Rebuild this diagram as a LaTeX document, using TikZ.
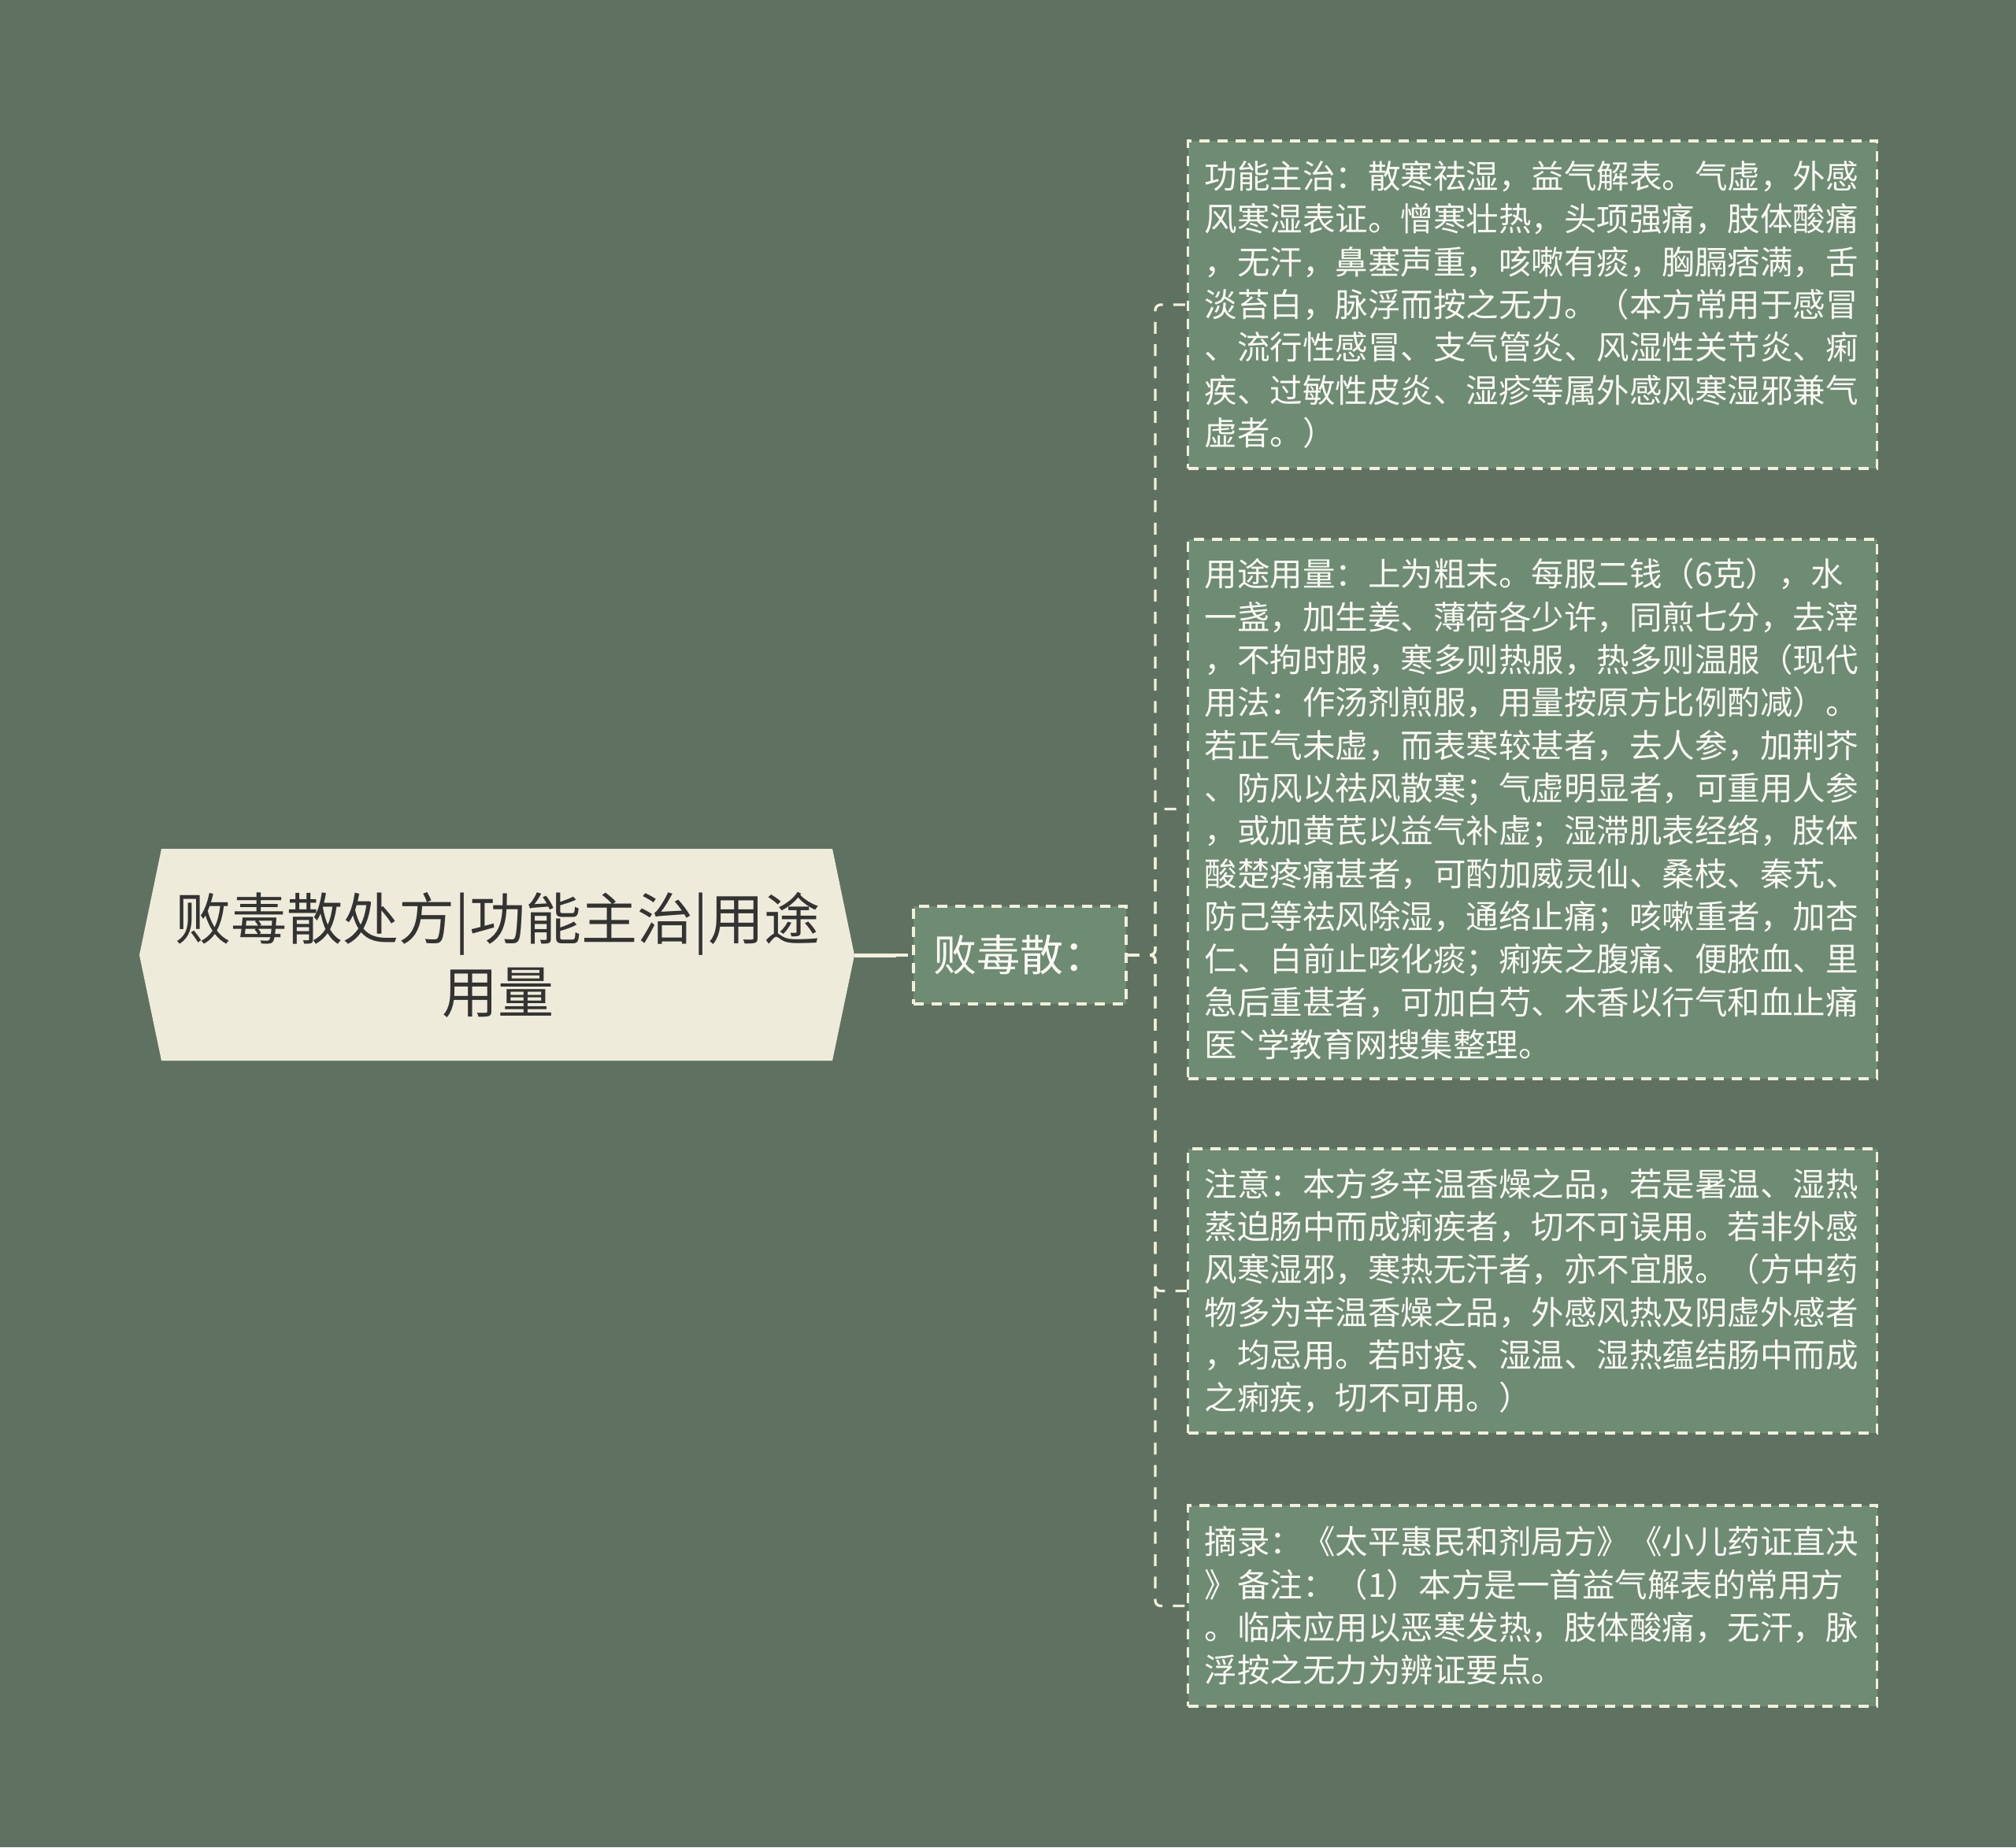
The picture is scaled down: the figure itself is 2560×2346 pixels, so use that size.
\documentclass[tikz,border=0pt]{standalone}
\usepackage{fontspec}
\setmainfont{Noto Sans CJK SC}
\definecolor{bgc}{HTML}{5F7262}
\definecolor{boxc}{HTML}{6E8B74}
\definecolor{rootc}{HTML}{EFEBDA}
\definecolor{linec}{HTML}{F3EFDB}
\definecolor{roottext}{HTML}{333333}
\definecolor{boxtext}{HTML}{FBFAF4}
\tikzset{
  conn/.style={draw=linec, line width=1pt, dash pattern=on 4.5pt off 4pt, rounded corners=2pt},
  solidconn/.style={draw=linec, line width=1.5pt},
  leafbox/.style={draw=linec, fill=boxc, line width=1pt, dash pattern=on 3.9pt off 3pt,
    text=boxtext, text width=249.9pt, inner xsep=6.3pt, inner ysep=0pt, align=left,
    anchor=west, font=\fontsize{12.45pt}{16.3pt}\selectfont},
  midbox/.style={draw=linec, fill=boxc, line width=1pt, dash pattern=on 3.9pt off 3pt,
    text=boxtext, minimum width=81pt, minimum height=37.2pt, inner sep=0pt,
    font=\fontsize{16.5pt}{20pt}\selectfont},
  roottxt/.style={text=roottext, align=center, inner sep=0pt,
    font=\fontsize{21.3pt}{28pt}\selectfont}
}
\begin{document}
\begin{tikzpicture}[x=0.3pt,y=-0.3pt]
\useasboundingbox (0,0) rectangle (2560,2346);
\fill[bgc] (0,0) rectangle (2560,2346);
% root shape
\fill[rootc] (177,1213) -- (205,1078) -- (1057,1078) -- (1085,1213) -- (1057,1347) -- (205,1347) -- cycle;
\node[roottxt] (root) at (632,1213) {败毒散处方|功能主治|用途\\用量};
\coordinate (rootE) at (1085,1213);
\coordinate (rootMid) at (1138,1213);
% middle node
\node[midbox] (child) at (1295,1213) {败毒散：};
% leaf boxes
\node[leafbox, minimum height=124.8pt] (b1) at (1507,387) {功能主治：散寒祛湿，益气解表。气虚，外感\\风寒湿表证。憎寒壮热，头项强痛，肢体酸痛\\，无汗，鼻塞声重，咳嗽有痰，胸膈痞满，舌\\淡苔白，脉浮而按之无力。（本方常用于感冒\\、流行性感冒、支气管炎、风湿性关节炎、痢\\疾、过敏性皮炎、湿疹等属外感风寒湿邪兼气\\虚者。）};
\node[leafbox, minimum height=205.5pt] (b2) at (1507,1027.5) {用途用量：上为粗末。每服二钱（6克），水\\一盏，加生姜、薄荷各少许，同煎七分，去滓\\，不拘时服，寒多则热服，热多则温服（现代\\用法：作汤剂煎服，用量按原方比例酌减）。\\若正气未虚，而表寒较甚者，去人参，加荆芥\\、防风以祛风散寒；气虚明显者，可重用人参\\，或加黄芪以益气补虚；湿滞肌表经络，肢体\\酸楚疼痛甚者，可酌加威灵仙、桑枝、秦艽、\\防己等祛风除湿，通络止痛；咳嗽重者，加杏\\仁、白前止咳化痰；痢疾之腹痛、便脓血、里\\急后重甚者，可加白芍、木香以行气和血止痛\\医ˋ学教育网搜集整理。};
\node[leafbox, minimum height=108.3pt] (b3) at (1507,1639.5) {注意：本方多辛温香燥之品，若是暑温、湿热\\蒸迫肠中而成痢疾者，切不可误用。若非外感\\风寒湿邪，寒热无汗者，亦不宜服。（方中药\\物多为辛温香燥之品，外感风热及阴虚外感者\\，均忌用。若时疫、湿温、湿热蕴结肠中而成\\之痢疾，切不可用。）};
\node[leafbox, minimum height=76.5pt] (b4) at (1507,2039.5) {摘录：《太平惠民和剂局方》《小儿药证直决\\》备注：（1）本方是一首益气解表的常用方\\。临床应用以恶寒发热，肢体酸痛，无汗，脉\\浮按之无力为辨证要点。};
% connectors
\draw[solidconn] (rootE) -- (rootMid);
\draw[conn] (rootMid) -- (child.west);
\foreach \b in {b1,b2,b3,b4}{
  \draw[conn] (child.east) -- (1467,1213) |- (\b.west);
}
\end{tikzpicture}
\end{document}
